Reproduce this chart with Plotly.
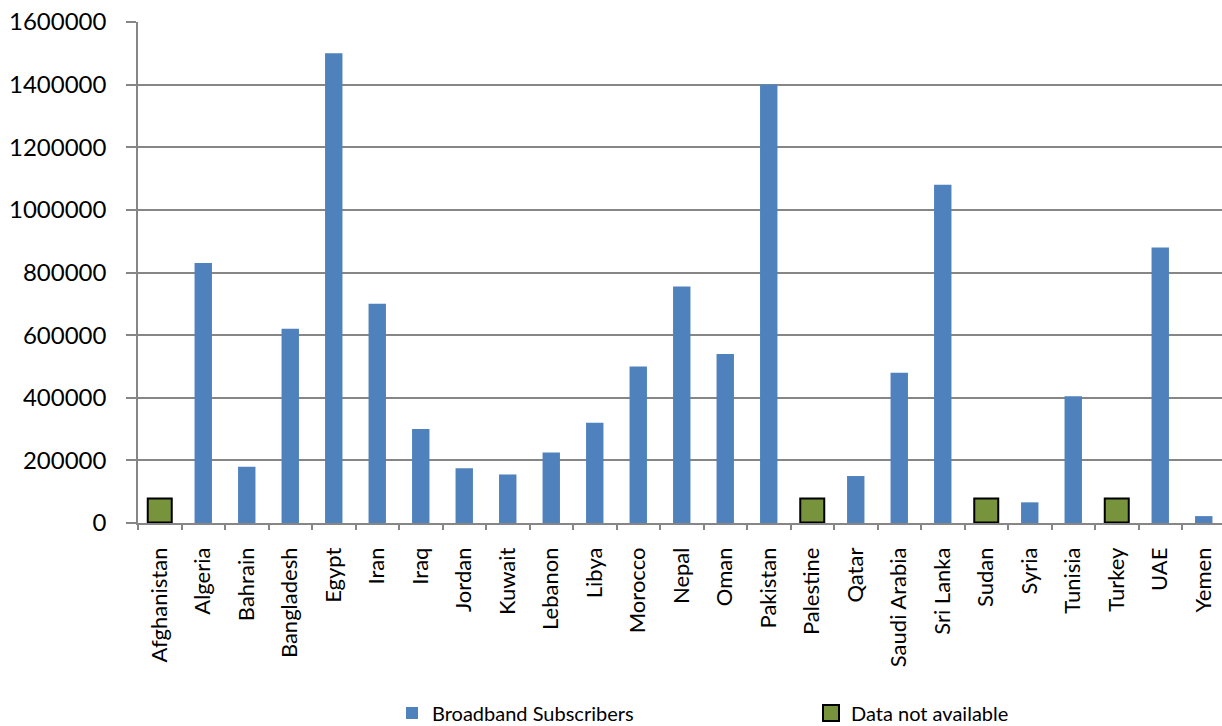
import plotly.graph_objects as go

countries = ["Afghanistan", "Algeria", "Bahrain", "Bangladesh", "Egypt", "Iran", "Iraq",
             "Jordan", "Kuwait", "Lebanon", "Libya", "Morocco", "Nepal", "Oman", "Pakistan",
             "Palestine", "Qatar", "Saudi Arabia", "Sri Lanka", "Sudan", "Syria", "Tunisia",
             "Turkey", "UAE", "Yemen"]
subscribers = [None, 830000, 180000, 620000, 1500000, 700000, 300000,
               175000, 155000, 225000, 320000, 500000, 755000, 540000, 1400000,
               None, 150000, 480000, 1080000, None, 66000, 405000,
               None, 880000, 22000]
not_available = ["Afghanistan", "Palestine", "Sudan", "Turkey"]
na_marker_level = [40000, 40000, 40000, 40000]
y_ticks = [0, 200000, 400000, 600000, 800000, 1000000, 1200000, 1400000, 1600000]

FONT = "Lato"

fig = go.Figure()
fig.add_trace(go.Bar(
    x=countries, y=subscribers, name="Broadband Subscribers",
    marker=dict(color="#4F81BD", line=dict(width=0)),
))
fig.add_trace(go.Scatter(
    x=not_available, y=na_marker_level, name="Data not available", mode="markers",
    marker=dict(symbol="square", size=24, color="#77933C",
                line=dict(color="#000000", width=2)),
))

fig.update_layout(
    width=1222, height=726,
    margin=dict(l=138, r=0, t=22, b=203, autoexpand=False),
    paper_bgcolor="white", plot_bgcolor="white",
    bargap=0.6,
    font=dict(family=FONT, size=24, color="#000000"),
    showlegend=True,
    legend=dict(orientation="h", xref="container", yref="container",
                x=392/1222, xanchor="left", y=13/726, yanchor="middle",
                font=dict(family=FONT, size=20, color="#000000"),
                entrywidth=374, entrywidthmode="pixels",
                itemsizing="trace", bgcolor="rgba(0,0,0,0)", traceorder="normal"),
)
fig.update_xaxes(
    type="category", categoryorder="array", categoryarray=countries,
    range=[-0.5, -0.5 + 1084/43.5], automargin=False,
    showgrid=False, showline=True, linecolor="#868686", linewidth=1.5,
    ticks="outside", ticklen=5, tickcolor="#868686", tickwidth=1.5,
    tickson="boundaries", tickangle=-90, ticklabelstandoff=14,
    tickfont=dict(family=FONT, size=22, color="#000000"),
)
fig.update_yaxes(
    range=[0, 1600000], tickvals=y_ticks, ticktext=[str(v) for v in y_ticks],
    automargin=False,
    showgrid=True, gridcolor="#868686", gridwidth=1.5,
    showline=True, linecolor="#868686", linewidth=1.5,
    ticks="outside", ticklen=10, tickcolor="#868686", tickwidth=1.5,
    ticklabelstandoff=15, zeroline=False,
    tickfont=dict(family=FONT, size=24, color="#000000"),
)

fig.write_html("out.html")
